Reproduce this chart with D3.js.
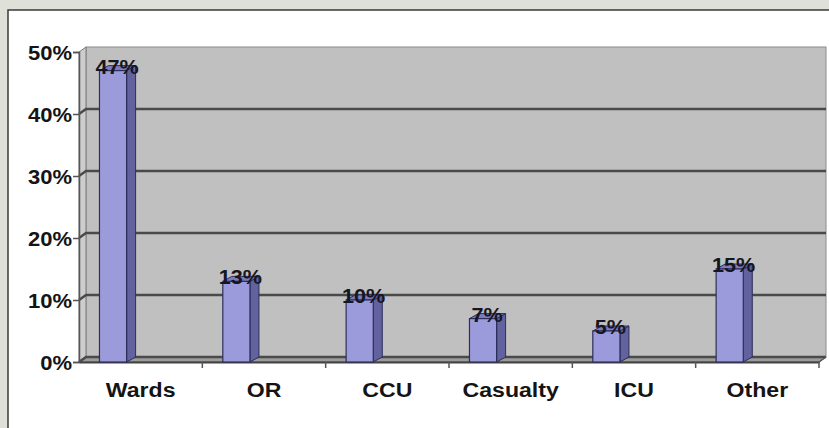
<!DOCTYPE html>
<html>
<head>
<meta charset="utf-8">
<script src="https://cdn.jsdelivr.net/npm/d3@7"></script>
<style>
  html, body { margin: 0; padding: 0; background: #dfe0d8; }
  svg { display: block; }
  text { font-family: "Liberation Sans", Arial, sans-serif; font-weight: bold; }
</style>
</head>
<body>
<svg id="chart" width="829" height="428"></svg>
<script>
// Share of cases by hospital location
const categories = ["Wards", "OR", "CCU", "Casualty", "ICU", "Other"];
const shares = [0.47, 0.13, 0.10, 0.07, 0.05, 0.15];
const shareLabels = ["47%", "13%", "10%", "7%", "5%", "15%"];
const yTicks = [0, 0.1, 0.2, 0.3, 0.4, 0.5];

const W = 829, H = 428;
const svg = d3.select("#chart");

// white chart panel with a dark frame on the top and left
svg.append("rect").attr("x", 8).attr("y", 10).attr("width", W).attr("height", H)
  .attr("fill", "#ffffff");
svg.append("path").attr("d", `M8,${H} V10 H${W}`)
  .attr("fill", "none").attr("stroke", "#3a3a3a").attr("stroke-width", 1.5);

// plot geometry (front plane) and the 3D depth offset of the back wall
const plot = { left: 79, right: 819, top: 52, bottom: 362 };
const depth = { dx: 7, dy: -5 };

const x = d3.scaleBand().domain(categories).range([plot.left, plot.right]).padding(0);
const y = d3.scaleLinear().domain([0, 0.5]).range([plot.bottom, plot.top]);

const backL = plot.left + depth.dx, backR = plot.right + depth.dx;
const yBack = v => y(v) + depth.dy;

// back wall
svg.append("rect")
  .attr("x", backL).attr("y", yBack(0.5))
  .attr("width", backR - backL).attr("height", yBack(0) - yBack(0.5))
  .attr("fill", "#c0c0c0").attr("stroke", "#8c8c8c").attr("stroke-width", 1);

// left side wall
svg.append("path")
  .attr("d", `M${plot.left},${y(0.5)} L${backL},${yBack(0.5)} L${backL},${yBack(0)} L${plot.left},${y(0)} Z`)
  .attr("fill", "#cdcdcd").attr("stroke", "#7a7a7a").attr("stroke-width", 1);

// floor
svg.append("path")
  .attr("d", `M${plot.left},${y(0)} L${backL},${yBack(0)} L${backR},${yBack(0)} L${plot.right},${y(0)} Z`)
  .attr("fill", "#9c9c9c").attr("stroke", "#555").attr("stroke-width", 1);

// gridlines: run along the side wall, then across the back wall
const grid = svg.append("g");
yTicks.forEach(v => {
  grid.append("path")
    .attr("d", `M${plot.left},${y(v)} L${backL},${yBack(v)} L${backR},${yBack(v)}`)
    .attr("fill", "none")
    .attr("stroke", v === 0.5 ? "none" : "#4a4a4a")
    .attr("stroke-width", 2.5);
});

// value axis
const yAxis = d3.axisLeft(y).tickValues(yTicks).tickFormat(d3.format(".0%"))
  .tickSize(6).tickPadding(5);
const gy = svg.append("g").attr("transform", `translate(${plot.left},0)`).call(yAxis);
gy.select(".domain").attr("stroke", "#555").attr("stroke-width", 1.5);
gy.selectAll(".tick line").attr("stroke", "#555").attr("stroke-width", 1.5);
gy.selectAll(".tick text")
  .attr("fill", "#141414").attr("font-size", 20)
  .attr("x", null).attr("dy", null).attr("text-anchor", "end")
  .attr("transform", "translate(-7,7) scale(1.1,1)");

// category axis along the front edge of the floor
const xAxis = d3.axisBottom(x).tickSize(0).tickPadding(0);
const gx = svg.append("g").attr("transform", `translate(0,${plot.bottom})`).call(xAxis);
gx.select(".domain").attr("stroke", "#444").attr("stroke-width", 2);
gx.selectAll(".tick text")
  .attr("fill", "#141414").attr("font-size", 21)
  .attr("y", null).attr("dy", null)
  .attr("transform", "translate(0,35) scale(1.1,1)");
// category separators
gx.selectAll(".sep").data(categories)
  .enter().append("line").attr("class", "sep")
  .attr("x1", c => x(c) + x.bandwidth())
  .attr("x2", c => x(c) + x.bandwidth())
  .attr("y1", 0).attr("y2", 6)
  .attr("stroke", "#555").attr("stroke-width", 1.5);
// edge from the front floor corner to the back wall
svg.append("line")
  .attr("x1", plot.right).attr("y1", y(0)).attr("x2", backR).attr("y2", yBack(0))
  .attr("stroke", "#555").attr("stroke-width", 1.5);

// 3D columns
const barOffset = x.bandwidth() * 0.166;
const barW = x.bandwidth() * 0.22;
const bd = { dx: 9, dy: -5 };
const bars = svg.append("g").selectAll("g").data(categories).enter().append("g");

bars.each(function (c, i) {
  const g = d3.select(this);
  const x0 = x(c) + barOffset, x1 = x0 + barW;
  const yt = y(shares[i]), yb = y(0);
  // side face
  g.append("path")
    .attr("d", `M${x1},${yt} L${x1 + bd.dx},${yt + bd.dy} L${x1 + bd.dx},${yb + bd.dy} L${x1},${yb} Z`)
    .attr("fill", "#62629e").attr("stroke", "#2e2e5c").attr("stroke-width", 1);
  // top face
  g.append("path")
    .attr("d", `M${x0},${yt} L${x0 + bd.dx},${yt + bd.dy} L${x1 + bd.dx},${yt + bd.dy} L${x1},${yt} Z`)
    .attr("fill", "#7c7cc0").attr("stroke", "#2e2e5c").attr("stroke-width", 1);
  // front face
  g.append("rect")
    .attr("x", x0).attr("y", yt).attr("width", barW).attr("height", yb - yt)
    .attr("fill", "#9b9bdb").attr("stroke", "#2e2e5c").attr("stroke-width", 1.2);
});

// value labels on top of each column
svg.append("g").selectAll("text").data(categories).enter().append("text")
  .attr("text-anchor", "middle")
  .attr("fill", "#161622")
  .attr("font-size", 20)
  .attr("transform", (c, i) =>
    `translate(${x(c) + barOffset + barW / 2 + 4},${y(shares[i]) + 3}) scale(1.08,1)`)
  .text((c, i) => shareLabels[i]);
</script>
</body>
</html>
